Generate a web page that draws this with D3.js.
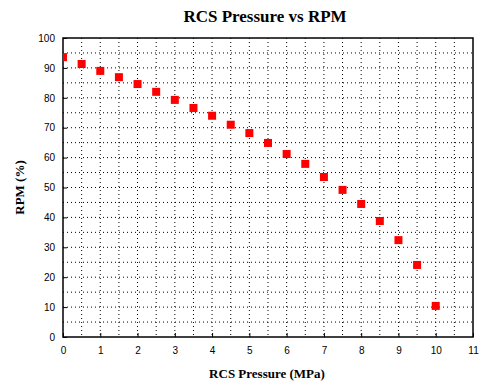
<!DOCTYPE html>
<html>
<head>
<meta charset="utf-8">
<title>RCS Pressure vs RPM</title>
<script src="https://cdn.jsdelivr.net/npm/d3@7"></script>
<style>
  body { margin: 0; background: #fff; }
  .tick text { font-family: "Liberation Sans", Arial, sans-serif; font-size: 10px; fill: #000; }
  .ttl { font-family: "Liberation Serif", "Times New Roman", serif; font-weight: bold; fill: #000; }
</style>
</head>
<body>
<svg width="479" height="385"></svg>
<script>
// pressure (MPa) and RPM (%)
var pressure = [0, 0.5, 1, 1.5, 2, 2.5, 3, 3.5, 4, 4.5, 5, 5.5, 6, 6.5, 7, 7.5, 8, 8.5, 9, 9.5, 10];
var rpm = [93.6, 91.3, 89, 86.9, 84.6, 82, 79.3, 76.6, 74, 71, 68.2, 64.9, 61.2, 57.9, 53.5, 49.2, 44.5, 38.8, 32.4, 24.1, 10.4];
var xTicks = d3.range(0, 12, 1);
var yTicks = d3.range(0, 101, 10);

var svg = d3.select("svg");
var m = {left: 63, right: 6, top: 38, bottom: 48};
var w = 479 - m.left - m.right, h = 385 - m.top - m.bottom;

var x = d3.scaleLinear().domain([0, 11]).range([0, w]);
var y = d3.scaleLinear().domain([0, 100]).range([h, 0]);

var g = svg.append("g").attr("transform", "translate(" + m.left + "," + m.top + ")");

svg.append("defs").append("clipPath").attr("id", "clip")
  .append("rect").attr("width", w).attr("height", h);

// dotted grid
g.append("g").selectAll("line").data(d3.range(0.5, 11, 0.5)).enter().append("line")
  .attr("x1", function(d) { return x(d); }).attr("x2", function(d) { return x(d); })
  .attr("y1", 0).attr("y2", h)
  .attr("stroke", "#000").attr("stroke-width", 1).attr("stroke-dasharray", "1,3");
g.append("g").selectAll("line").data(d3.range(5, 100, 5)).enter().append("line")
  .attr("y1", function(d) { return y(d); }).attr("y2", function(d) { return y(d); })
  .attr("x1", 0).attr("x2", w)
  .attr("stroke", "#000").attr("stroke-width", 1).attr("stroke-dasharray", "1,3");

// axes with inward ticks
var xa = g.append("g").attr("transform", "translate(0," + h + ")")
  .call(d3.axisBottom(x).tickValues(xTicks).tickSize(-4).tickPadding(10).tickFormat(d3.format("d")));
var ya = g.append("g")
  .call(d3.axisLeft(y).tickValues(yTicks).tickSize(-4).tickPadding(8).tickFormat(d3.format("d")));
xa.select(".domain").remove();
ya.select(".domain").remove();

g.append("rect").attr("width", w).attr("height", h)
  .attr("fill", "none").attr("stroke", "#000").attr("stroke-width", 1.5);

// points
g.append("g").attr("clip-path", "url(#clip)")
  .selectAll("rect").data(pressure).enter().append("rect")
  .attr("x", function(d) { return x(d) - 4; })
  .attr("y", function(d, i) { return y(rpm[i]) - 4; })
  .attr("width", 8).attr("height", 8)
  .attr("fill", "#f00");

svg.append("text").attr("class", "ttl").attr("x", 265).attr("y", 22)
  .attr("text-anchor", "middle").style("font-size", "17px").text("RCS Pressure vs RPM");
svg.append("text").attr("class", "ttl").attr("x", 267).attr("y", 378)
  .attr("text-anchor", "middle").style("font-size", "13px").text("RCS Pressure (MPa)");
svg.append("text").attr("class", "ttl")
  .attr("transform", "translate(24," + (m.top + h / 2) + ") rotate(-90)")
  .attr("text-anchor", "middle").style("font-size", "13px").text("RPM (%)");
</script>
</body>
</html>
